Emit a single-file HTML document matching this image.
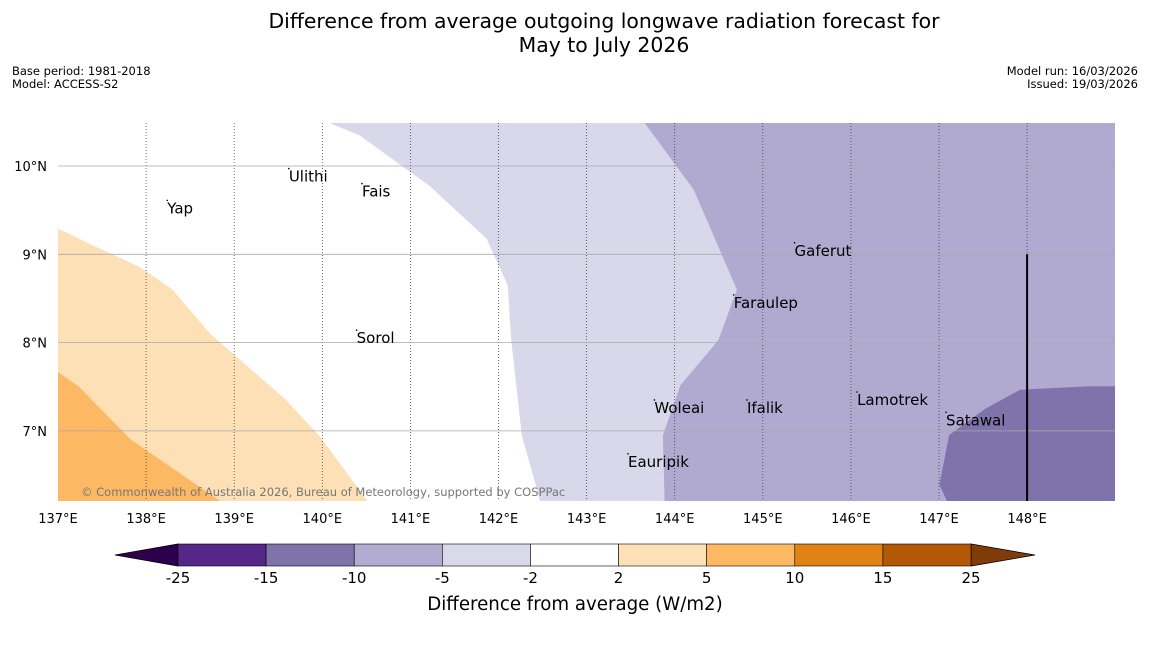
<!DOCTYPE html>
<html><head><meta charset="utf-8"><style>
body{margin:0;background:#fff;width:1150px;height:644px;overflow:hidden;font-family:"DejaVu Sans","Liberation Sans",sans-serif}
</style></head><body>
<svg id="s" width="1150" height="644" xmlns="http://www.w3.org/2000/svg" font-family="DejaVu Sans, Liberation Sans, sans-serif">
<text x="604" y="28" text-anchor="middle" font-size="20.4">Difference from average outgoing longwave radiation forecast for</text>
<text x="604" y="52" text-anchor="middle" font-size="20.4">May to July 2026</text>
<text x="12" y="75" font-size="11.5">Base period: 1981-2018</text>
<text x="12" y="88" font-size="11.5">Model: ACCESS-S2</text>
<text x="1138" y="75" font-size="11.5" text-anchor="end">Model run: 16/03/2026</text>
<text x="1138" y="88" font-size="11.5" text-anchor="end">Issued: 19/03/2026</text>
<g id="map"></g>
<g id="cb"></g>
<text x="575" y="610" text-anchor="middle" font-size="18.2">Difference from average (W/m2)</text>
</svg>
<script>
const NS="http://www.w3.org/2000/svg";
const lonTicks=[137,138,139,140,141,142,143,144,145,146,147,148];
const latTicks=[10,9,8,7];
const lightLavLon=[140.09,140.43,141.22,141.87,142.11,142.15,142.27,142.48,143.88,143.86,144.06,144.49,144.70,144.21,143.65];
const lightLavLat=[10.49,10.35,9.78,9.18,8.65,8.03,6.95,6.20,6.20,6.95,7.52,8.03,8.60,9.73,10.49];
const midLonBox=[143.65,149.0,149.0,143.88];
const midLatBox=[10.49,10.49,6.20,6.20];
const darkLon=[149.0,148.71,147.92,147.52,147.12,147.01,147.10,149.0];
const darkLat=[7.50,7.50,7.46,7.24,6.95,6.39,6.20,6.20];
const lightOrLon=[137,137.14,137.36,137.93,138.29,138.73,139.58,139.97,140.51,137];
const lightOrLat=[9.28,9.22,9.11,8.85,8.60,8.09,7.35,6.93,6.20,6.20];
const midOrLon=[137,137.23,137.82,138.84,137];
const midOrLat=[7.66,7.50,6.90,6.20,6.20];
const places=["Yap","Ulithi","Fais","Gaferut","Faraulep","Sorol","Lamotrek","Woleai","Ifalik","Satawal","Eauripik"];
const placeLon=[138.24,139.62,140.45,145.36,144.67,140.39,146.07,143.77,144.82,147.08,143.47];
const placeLat=[9.52,9.88,9.71,9.04,8.45,8.05,7.35,7.26,7.26,7.12,6.65];
const cbBounds=[-25,-15,-10,-5,-2,2,5,10,15,25];
const cbColors=["#542788","#8073ac","#b2abd2","#d8daeb","#ffffff","#fee0b6","#fdb863","#e08214","#b35806"];
const X=lon=>58+(lon-137)*88.1, Y=lat=>166+(10-lat)*88.3;
const map=document.getElementById('map');
function mk(t,a,p){const e=document.createElementNS(NS,t);for(const k in a)e.setAttribute(k,a[k]);(p||map).appendChild(e);return e;}
const clip=mk('clipPath',{id:'c'});mk('rect',{x:58,y:123,width:1057,height:378},clip);
const g=mk('g',{'clip-path':'url(#c)'});
mk('rect',{x:58,y:123,width:1057,height:378,fill:'#fff'},g);
function poly2(lons,lats,fill,name){const pts=lons.map((l,i)=>X(l)+','+Y(lats[i])).join(' ');
 const e=mk('polygon',{points:pts,fill:fill,stroke:fill},g);
 
 }
poly2(midLonBox,midLatBox,'#b0a9d0','region-minus10-to-minus5');
poly2(lightLavLon,lightLavLat,'#d8d8ea','region-minus5-to-minus2');
poly2(darkLon,darkLat,'#8073ac','region-minus15-to-minus10');
poly2(lightOrLon,lightOrLat,'#fde0b6','region-2-to-5');
poly2(midOrLon,midOrLat,'#fdb863','region-5-to-10');
lonTicks.forEach(l=>{const x=X(l);
 if(l>137){const e=mk('line',{x1:x,x2:x,y1:123,y2:501,stroke:'#333','stroke-width':0.7,'stroke-dasharray':'1,2'},g);
 }
 const t=mk('text',{x:x,y:523,'text-anchor':'middle','font-size':13});t.textContent=l+'°E';
 });
latTicks.forEach(l=>{const y=Y(l);
 const e=mk('line',{x1:58,x2:1115,y1:y,y2:y,stroke:'#aaa','stroke-width':0.8},g);
 
 const t=mk('text',{x:47,y:y+5,'text-anchor':'end','font-size':13});t.textContent=l+'°N';
 });
const vl=mk('line',{x1:X(148),x2:X(148),y1:Y(9),y2:501,stroke:'#000','stroke-width':2},g);

places.forEach((p,i)=>{const x=X(placeLon[i]),y=Y(placeLat[i]);
 const d=mk('circle',{cx:x,cy:y-8,r:0.8,fill:'#000'},g);
 
 const t=mk('text',{x:x,y:y+5,'font-size':15},g);t.textContent=p;
 });
const cp=mk('text',{x:81,y:496,'font-size':11.5,fill:'#777'},g);cp.textContent='© Commonwealth of Australia 2026, Bureau of Meteorology, supported by COSPPac';

const cb=document.getElementById('cb');
const cx0=178,cw=793/(cbBounds.length-1),cy=544,ch=22;
const CX=i=>cx0+i*cw;
const lt=mk('polygon',{points:`115,555 ${cx0},${cy} ${cx0},${cy+ch}`,fill:'#2d004b',stroke:'#000','stroke-width':0.8},cb);

const rt=mk('polygon',{points:`1035,555 ${CX(9)},${cy} ${CX(9)},${cy+ch}`,fill:'#7f3b08',stroke:'#000','stroke-width':0.8},cb);

cbColors.forEach((c,i)=>{const r=mk('rect',{x:CX(i),y:cy,width:cw,height:ch,fill:c,stroke:'#000','stroke-width':0.6},cb);
 });
cbBounds.forEach((b,i)=>{const t=mk('text',{x:CX(i),y:583,'text-anchor':'middle','font-size':15},cb);t.textContent=b;
 });
</script>
</body></html>
